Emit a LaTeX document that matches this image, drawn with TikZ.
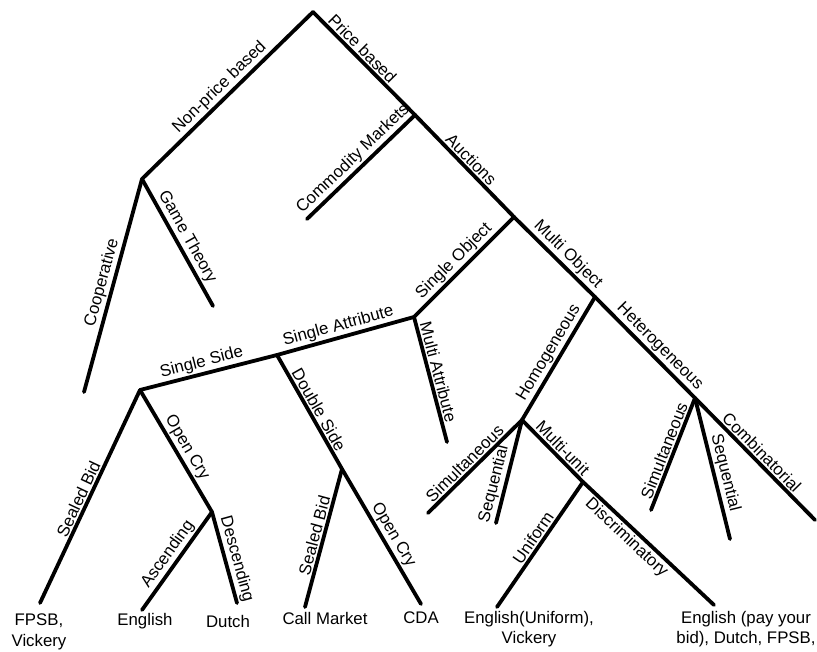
\documentclass[tikz,border=0pt]{standalone}
\usepackage{fontspec}
\setmainfont{Liberation Sans}
\begin{document}
\begin{tikzpicture}[x=1pt,y=-1pt,
  br/.style={line width=3.8pt, line cap=round, line join=round},
  lbl/.style={font=\fontsize{16.8}{20}\selectfont, inner sep=1.5pt, sloped},
  leaf/.style={font=\fontsize{16.8}{20.5}\selectfont, align=center, inner sep=0pt}]
\useasboundingbox (0,0) rectangle (817,652);
% inner points
\coordinate (root) at (313,12);
\coordinate (np) at (142,179);
\coordinate (cm) at (415,115);
\coordinate (auc) at (514,217);
\coordinate (mo) at (595,297);
\coordinate (so) at (414,317);
\coordinate (sa) at (277,355);
\coordinate (ss) at (140,390);
\coordinate (oc) at (212,512);
\coordinate (ds) at (342,469);
\coordinate (hom) at (522,420);
\coordinate (mu) at (583,482);
\coordinate (het) at (695,398);
% leaves
\coordinate (coop) at (84,392);
\coordinate (gt) at (213,306);
\coordinate (cml) at (307,219);
\coordinate (ma) at (447,442);
\coordinate (fpsb) at (40,603);
\coordinate (eng) at (142,610);
\coordinate (dut) at (237,603);
\coordinate (call) at (305,607);
\coordinate (cda) at (421,604);
\coordinate (hsim) at (428,513);
\coordinate (hseq) at (496,523);
\coordinate (uni) at (497,607);
\coordinate (dis) at (714,605);
\coordinate (tsim) at (651,510);
\coordinate (tseq) at (730,539);
\coordinate (comb) at (815,520);

\draw[br] (root) -- node[lbl,above,pos=0.5]{Non-price based} (np);
\draw[br] (root) -- node[lbl,above,pos=0.42]{Price based} (cm);
\draw[br] (np) -- node[lbl,above,pos=0.5]{Cooperative} (coop);
\draw[br] (np) -- node[lbl,above,pos=0.5]{Game Theory} (gt);
\draw[br] (cm) -- node[lbl,above,pos=0.5]{Auctions} (auc);
\draw[br] (cm) -- node[lbl,above,pos=0.5]{Commodity Markets} (cml);
\draw[br] (auc) -- node[lbl,above,pos=0.57]{Multi Object} (mo);
\draw[br] (auc) -- node[lbl,above,pos=0.52]{Single Object} (so);
\draw[br] (so) -- node[lbl,above,pos=0.53]{Single Attribute} (sa);
\draw[br] (so) -- node[lbl,above,pos=0.46]{Multi Attribute} (ma);
\draw[br] (sa) -- node[lbl,above,pos=0.53]{Single Side} (ss);
\draw[br] (sa) -- node[lbl,above,pos=0.52]{Double Side} (ds);
\draw[br] (ss) -- node[lbl,above,pos=0.53]{Sealed Bid} (fpsb);
\draw[br] (ss) -- node[lbl,above,pos=0.52]{Open Cry} (oc);
\draw[br] (oc) -- node[lbl,above,pos=0.5]{Ascending} (eng);
\draw[br] (oc) -- node[lbl,above,pos=0.55]{Descending} (dut);
\draw[br] (ds) -- node[lbl,above,pos=0.5]{Sealed Bid} (call);
\draw[br] (ds) -- node[lbl,above,pos=0.53]{Open Cry} (cda);
\draw[br] (mo) -- node[lbl,above,pos=0.5]{Homogeneous} (hom);
\draw[br] (mo) -- node[lbl,above,pos=0.57]{Heterogeneous} (het);
\draw[br] (hom) -- node[lbl,above,pos=0.54]{Simultaneous} (hsim);
\draw[br] (hom) -- node[lbl,above,pos=0.65]{Sequential} (hseq);
\draw[br] (hom) -- node[lbl,above,pos=0.56]{Multi-unit} (mu);
\draw[br] (mu) -- node[lbl,above,pos=0.49]{Uniform} (uni);
\draw[br] (mu) -- node[lbl,below,pos=0.39]{Discriminatory} (dis);
\draw[br] (het) -- node[lbl,above,pos=0.5]{Simultaneous} (tsim);
\draw[br] (het) -- node[lbl,above,pos=0.55]{Sequential} (tseq);
\draw[br] (het) -- node[lbl,above,pos=0.5]{Combinatorial} (comb);

\node[leaf] (t1) at (39,632) {FPSB,\\Vickery};
\node[leaf] (t2) at (145,621) {English};
\node[leaf] (t3) at (228,621) {Dutch};
\node[leaf] (t4) at (325,618) {Call Market};
\node[leaf] (t5) at (421,618) {CDA};
\node[leaf] (t6) at (529,629) {English(Uniform),\\Vickery};
\node[leaf] (t7) at (746,629) {English (pay your\\bid), Dutch, FPSB,};
\end{tikzpicture}
\end{document}
